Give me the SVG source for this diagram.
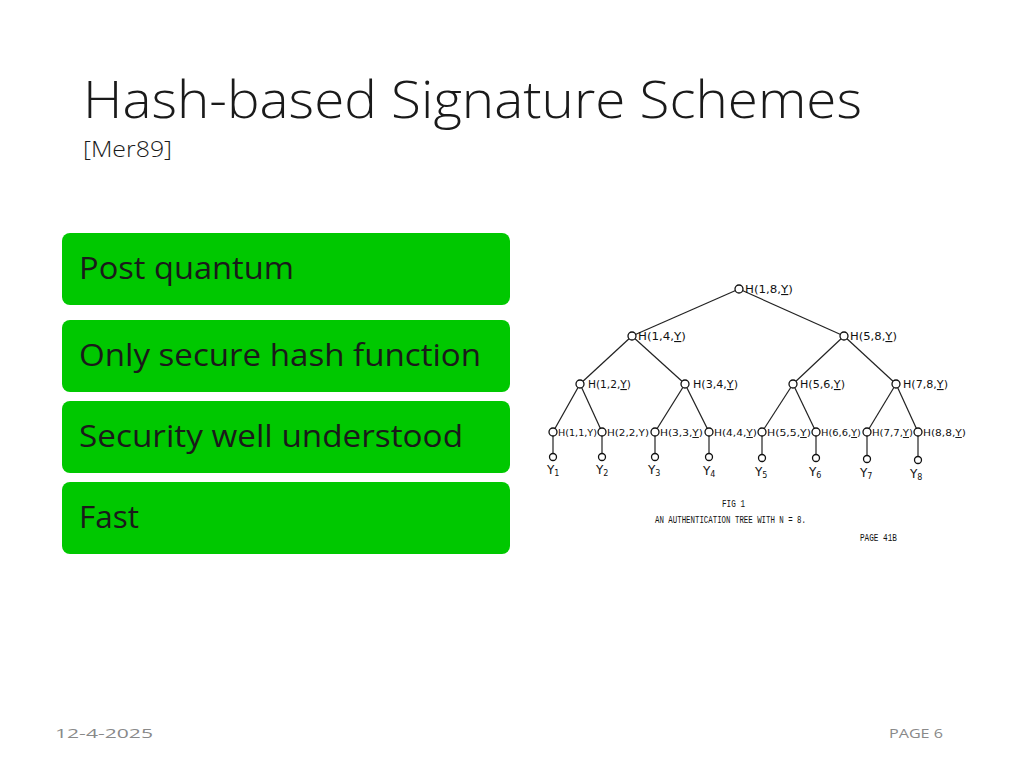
<svg xmlns="http://www.w3.org/2000/svg" width="1024" height="768" viewBox="0 0 1024 768">
<style>
.box{fill:#00c800;}
.bt{font-family:"Open Sans","Liberation Sans",sans-serif;font-size:31px;fill:#1a1a1a;}
.title{font-family:"Open Sans","Liberation Sans",sans-serif;font-size:52px;font-weight:300;fill:#1a1a1a;}
.sub{font-family:"Open Sans","Liberation Sans",sans-serif;font-size:22px;font-weight:300;fill:#1a1a1a;}
.foot{font-family:"Open Sans","Liberation Sans",sans-serif;font-size:13px;fill:#898989;}
.n{fill:#fff;stroke:#111;stroke-width:1.3;}
.e{stroke:#222;stroke-width:1.2;fill:none;}
.lbl{font-family:"DejaVu Sans","Liberation Sans",sans-serif;font-size:11px;fill:#111;}
.l4{font-family:"DejaVu Sans","Liberation Sans",sans-serif;font-size:9.5px;fill:#111;}
.yl{font-family:"DejaVu Sans","Liberation Sans",sans-serif;font-size:12px;fill:#111;}
.u{text-decoration:underline;}
.cap{font-family:"Liberation Mono",monospace;font-size:11px;fill:#111;}
</style>
<rect width="1024" height="768" fill="#fff"/>
<g id="title">
<text class="title" x="83" y="118" textLength="779" lengthAdjust="spacingAndGlyphs">Hash-based Signature Schemes</text>
<text class="sub" x="83" y="157" textLength="89" lengthAdjust="spacingAndGlyphs">[Mer89]</text>
</g>
<g id="box1"><rect class="box" x="62" y="233" width="448" height="72" rx="8"/><text class="bt" x="79" y="279" textLength="215" lengthAdjust="spacingAndGlyphs">Post quantum</text></g>
<g id="box2"><rect class="box" x="62" y="320" width="448" height="72" rx="8"/><text class="bt" x="79" y="366" textLength="402" lengthAdjust="spacingAndGlyphs">Only secure hash function</text></g>
<g id="box3"><rect class="box" x="62" y="401" width="448" height="72" rx="8"/><text class="bt" x="79" y="447" textLength="384" lengthAdjust="spacingAndGlyphs">Security well understood</text></g>
<g id="box4"><rect class="box" x="62" y="482" width="448" height="72" rx="8"/><text class="bt" x="79" y="528" textLength="60" lengthAdjust="spacingAndGlyphs">Fast</text></g>
<g id="connectors">
<line class="e" x1="739" y1="289" x2="632" y2="336"/>
<line class="e" x1="739" y1="289" x2="844" y2="336"/>
<line class="e" x1="632" y1="336" x2="580" y2="384"/>
<line class="e" x1="632" y1="336" x2="685" y2="384"/>
<line class="e" x1="844" y1="336" x2="793" y2="384"/>
<line class="e" x1="844" y1="336" x2="896" y2="384"/>
<line class="e" x1="580" y1="384" x2="553" y2="432"/>
<line class="e" x1="580" y1="384" x2="602" y2="432"/>
<line class="e" x1="685" y1="384" x2="655" y2="432"/>
<line class="e" x1="685" y1="384" x2="709" y2="432"/>
<line class="e" x1="793" y1="384" x2="762" y2="432"/>
<line class="e" x1="793" y1="384" x2="816" y2="432"/>
<line class="e" x1="896" y1="384" x2="867" y2="432"/>
<line class="e" x1="896" y1="384" x2="918" y2="432"/>
<line class="e" x1="553" y1="432" x2="553" y2="457"/>
<line class="e" x1="602" y1="432" x2="602" y2="457"/>
<line class="e" x1="655" y1="432" x2="655" y2="457"/>
<line class="e" x1="709" y1="432" x2="709" y2="457"/>
<line class="e" x1="762" y1="432" x2="762" y2="458"/>
<line class="e" x1="816" y1="432" x2="816" y2="458"/>
<line class="e" x1="867" y1="432" x2="867" y2="459"/>
<line class="e" x1="918" y1="432" x2="918" y2="460"/>
</g>
<g id="root"><circle class="n" cx="739" cy="289" r="4"/><text class="lbl" x="745" y="293" textLength="48" lengthAdjust="spacingAndGlyphs">H(1,8,<tspan class="u">Y</tspan>)</text></g>
<g id="n14"><circle class="n" cx="632" cy="336" r="4"/><text class="lbl" x="638" y="340" textLength="48" lengthAdjust="spacingAndGlyphs">H(1,4,<tspan class="u">Y</tspan>)</text></g>
<g id="n58"><circle class="n" cx="844" cy="336" r="4"/><text class="lbl" x="850" y="340" textLength="47" lengthAdjust="spacingAndGlyphs">H(5,8,<tspan class="u">Y</tspan>)</text></g>
<g id="n12"><circle class="n" cx="580" cy="384" r="4"/><text class="lbl" x="588" y="388" textLength="43" lengthAdjust="spacingAndGlyphs">H(1,2,<tspan class="u">Y</tspan>)</text></g>
<g id="n34"><circle class="n" cx="685" cy="384" r="4"/><text class="lbl" x="693" y="388" textLength="45" lengthAdjust="spacingAndGlyphs">H(3,4,<tspan class="u">Y</tspan>)</text></g>
<g id="n56"><circle class="n" cx="793" cy="384" r="4"/><text class="lbl" x="800" y="388" textLength="45" lengthAdjust="spacingAndGlyphs">H(5,6,<tspan class="u">Y</tspan>)</text></g>
<g id="n78"><circle class="n" cx="896" cy="384" r="4"/><text class="lbl" x="903" y="388" textLength="45" lengthAdjust="spacingAndGlyphs">H(7,8,<tspan class="u">Y</tspan>)</text></g>
<g id="n11"><circle class="n" cx="553" cy="432" r="4"/><text class="l4" x="558" y="436" textLength="39" lengthAdjust="spacingAndGlyphs">H(1,1,Y)</text></g>
<g id="n22"><circle class="n" cx="602" cy="432" r="4"/><text class="l4" x="607" y="436" textLength="42" lengthAdjust="spacingAndGlyphs">H(2,2,Y)</text></g>
<g id="n33"><circle class="n" cx="655" cy="432" r="4"/><text class="l4" x="660" y="436" textLength="43" lengthAdjust="spacingAndGlyphs">H(3,3,<tspan class="u">Y</tspan>)</text></g>
<g id="n44"><circle class="n" cx="709" cy="432" r="4"/><text class="l4" x="714" y="436" textLength="43" lengthAdjust="spacingAndGlyphs">H(4,4,<tspan class="u">Y</tspan>)</text></g>
<g id="n55"><circle class="n" cx="762" cy="432" r="4"/><text class="l4" x="767" y="436" textLength="44" lengthAdjust="spacingAndGlyphs">H(5,5,<tspan class="u">Y</tspan>)</text></g>
<g id="n66"><circle class="n" cx="816" cy="432" r="4"/><text class="l4" x="821" y="436" textLength="40" lengthAdjust="spacingAndGlyphs">H(6,6,<tspan class="u">Y</tspan>)</text></g>
<g id="n77"><circle class="n" cx="867" cy="432" r="4"/><text class="l4" x="872" y="436" textLength="41" lengthAdjust="spacingAndGlyphs">H(7,7,<tspan class="u">Y</tspan>)</text></g>
<g id="n88"><circle class="n" cx="918" cy="432" r="4"/><text class="l4" x="923" y="436" textLength="43" lengthAdjust="spacingAndGlyphs">H(8,8,<tspan class="u">Y</tspan>)</text></g>
<g id="y1"><circle class="n" cx="553" cy="457" r="3.5"/><text class="yl" x="547" y="474">Y<tspan font-size="8" dy="2">1</tspan></text></g>
<g id="y2"><circle class="n" cx="602" cy="457" r="3.5"/><text class="yl" x="596" y="474">Y<tspan font-size="8" dy="2">2</tspan></text></g>
<g id="y3"><circle class="n" cx="655" cy="457" r="3.5"/><text class="yl" x="648" y="474">Y<tspan font-size="8" dy="2">3</tspan></text></g>
<g id="y4"><circle class="n" cx="709" cy="457" r="3.5"/><text class="yl" x="703" y="475">Y<tspan font-size="8" dy="2">4</tspan></text></g>
<g id="y5"><circle class="n" cx="762" cy="458" r="3.5"/><text class="yl" x="755" y="476">Y<tspan font-size="8" dy="2">5</tspan></text></g>
<g id="y6"><circle class="n" cx="816" cy="458" r="3.5"/><text class="yl" x="809" y="476">Y<tspan font-size="8" dy="2">6</tspan></text></g>
<g id="y7"><circle class="n" cx="867" cy="459" r="3.5"/><text class="yl" x="860" y="477">Y<tspan font-size="8" dy="2">7</tspan></text></g>
<g id="y8"><circle class="n" cx="918" cy="460" r="3.5"/><text class="yl" x="910" y="478">Y<tspan font-size="8" dy="2">8</tspan></text></g>
<g id="caption">
<text class="cap" x="722" y="507" textLength="23" lengthAdjust="spacingAndGlyphs">FIG 1</text>
<text class="cap" x="655" y="523" textLength="151" lengthAdjust="spacingAndGlyphs">AN AUTHENTICATION TREE WITH N = 8.</text>
<text class="cap" x="860" y="541" font-size="9" textLength="37" lengthAdjust="spacingAndGlyphs">PAGE 41B</text>
</g>
<g id="footer">
<text class="foot" x="55" y="738" textLength="98" lengthAdjust="spacingAndGlyphs">12-4-2025</text>
<text class="foot" x="889" y="738" textLength="54" lengthAdjust="spacingAndGlyphs">PAGE 6</text>
</g>
</svg>
